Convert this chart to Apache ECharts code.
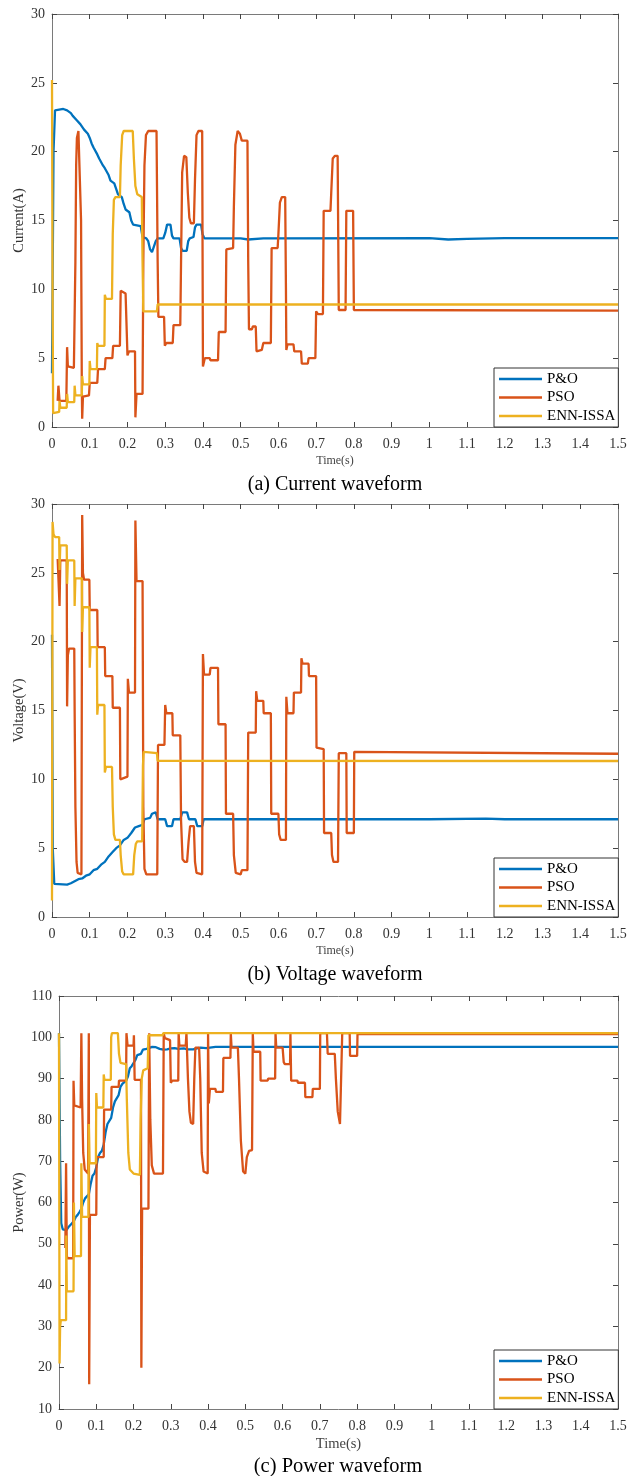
<!DOCTYPE html>
<html>
<head>
<meta charset="utf-8">
<script src="https://cdn.jsdelivr.net/npm/echarts@6/dist/echarts.min.js"></script>
<style>
html,body{margin:0;padding:0;background:#fff;}
#chart{width:627px;height:1476px;}
</style>
</head>
<body>
<div id="chart"></div>
<script>
// ---------- DATA ----------
const seriesNames = ['P&O', 'PSO', 'ENN-ISSA'];
const captions = ['(a) Current waveform', '(b) Voltage waveform', '(c) Power waveform'];
const yNames = ['Current(A)', 'Voltage(V)', 'Power(W)'];
const xName = 'Time(s)';

// (a) current, [time s, current A]
const currentPO = [[0,3.9],[0.004,20],[0.008,23.0],[0.012,23.1],[0.03,23.1],[0.04,23.0],[0.045,22.9],[0.05,22.8],[0.055,22.6],[0.06,22.5],[0.065,22.3],[0.07,22.2],[0.075,22.0],[0.08,21.8],[0.085,21.6],[0.09,21.5],[0.095,21.3],[0.1,21.0],[0.105,20.6],[0.11,20.3],[0.115,20.2],[0.12,19.8],[0.125,19.5],[0.13,19.4],[0.135,19.0],[0.14,18.8],[0.145,18.7],[0.15,18.3],[0.155,17.9],[0.16,17.8],[0.165,17.7],[0.17,17.3],[0.175,16.9],[0.18,16.8],[0.185,16.7],[0.19,16.2],[0.195,15.8],[0.2,15.7],[0.205,15.6],[0.21,15.0],[0.215,14.7],[0.22,14.7],[0.235,14.6],[0.24,13.8],[0.25,13.7],[0.255,13.5],[0.26,12.9],[0.265,12.7],[0.27,12.8],[0.275,13.5],[0.28,13.7],[0.295,13.7],[0.3,14.1],[0.305,14.7],[0.314,14.7],[0.318,13.9],[0.322,13.7],[0.338,13.7],[0.342,13.0],[0.346,12.8],[0.357,12.8],[0.361,13.5],[0.365,13.7],[0.375,13.8],[0.379,14.5],[0.383,14.7],[0.395,14.7],[0.399,14.0],[0.404,13.7],[0.5,13.7],[0.52,13.62],[0.56,13.7],[1.0,13.72],[1.005,13.6],[1.05,13.62],[1.1,13.66],[1.2,13.72],[1.5,13.72]];
const currentPSO = [[0.015,1.9],[0.017,3.0],[0.02,1.9],[0.038,1.9],[0.04,5.8],[0.042,4.4],[0.058,4.3],[0.06,4.3],[0.062,12],[0.064,19],[0.066,21.0],[0.07,21.5],[0.075,21.5],[0.077,15],[0.079,3],[0.08,0.6],[0.082,2.2],[0.098,2.3],[0.1,3.2],[0.12,3.2],[0.122,4.2],[0.14,4.2],[0.142,5.0],[0.16,5.0],[0.162,5.9],[0.18,5.9],[0.182,9.9],[0.195,9.7],[0.2,5.2],[0.204,5.5],[0.22,5.5],[0.221,0.7],[0.224,2.4],[0.24,2.4],[0.242,12],[0.245,19],[0.249,21.2],[0.255,21.5],[0.277,21.5],[0.28,12],[0.282,8.0],[0.297,8.0],[0.299,5.9],[0.303,6.1],[0.32,6.1],[0.322,7.4],[0.34,7.4],[0.342,12],[0.345,18.5],[0.35,19.7],[0.356,19.6],[0.36,17],[0.364,15.2],[0.368,14.8],[0.376,14.8],[0.379,18],[0.383,21.2],[0.388,21.5],[0.398,21.5],[0.4,4.4],[0.405,5.0],[0.418,5.0],[0.42,4.85],[0.44,4.85],[0.442,6.9],[0.46,6.9],[0.462,12.9],[0.48,13.0],[0.482,16],[0.486,20.5],[0.492,21.5],[0.498,21.3],[0.503,20.8],[0.518,20.8],[0.52,12],[0.522,7.1],[0.53,7.1],[0.532,7.3],[0.54,7.3],[0.542,5.5],[0.556,5.6],[0.56,6.1],[0.58,6.1],[0.582,13.0],[0.598,13.0],[0.6,14],[0.604,16.3],[0.609,16.7],[0.618,16.7],[0.62,10],[0.621,5.6],[0.624,6.0],[0.64,6.0],[0.642,5.5],[0.66,5.5],[0.662,4.6],[0.678,4.6],[0.68,5.0],[0.698,5.0],[0.7,8.4],[0.705,8.2],[0.718,8.2],[0.72,15.7],[0.738,15.7],[0.74,17],[0.744,19.5],[0.75,19.7],[0.757,19.7],[0.76,8.5],[0.778,8.5],[0.78,15.7],[0.798,15.7],[0.8,8.5],[1.5,8.45]];
const currentENN = [[0,25.2],[0.0015,10],[0.003,1.0],[0.005,1.1],[0.019,1.1],[0.02,1.9],[0.022,1.4],[0.039,1.4],[0.04,2.4],[0.042,1.8],[0.059,1.8],[0.06,3.0],[0.062,2.3],[0.079,2.3],[0.08,3.7],[0.082,3.1],[0.099,3.1],[0.1,4.8],[0.102,4.2],[0.119,4.2],[0.12,6.1],[0.122,5.9],[0.139,5.9],[0.14,9.6],[0.143,9.3],[0.159,9.3],[0.161,14],[0.164,16.5],[0.168,16.7],[0.18,16.7],[0.182,19],[0.186,21.2],[0.19,21.5],[0.214,21.5],[0.217,19.5],[0.221,17.5],[0.226,16.9],[0.238,16.7],[0.24,12],[0.242,8.4],[0.278,8.4],[0.28,8.9],[1.5,8.9]];

// (b) voltage, [time s, voltage V]
const voltagePO = [[0,20.5],[0.002,5],[0.006,2.4],[0.01,2.3],[0.04,2.35],[0.05,2.45],[0.06,2.6],[0.07,2.75],[0.08,2.8],[0.09,3.0],[0.1,3.1],[0.11,3.4],[0.12,3.5],[0.13,3.8],[0.14,4.0],[0.15,4.4],[0.16,4.7],[0.17,5.0],[0.18,5.2],[0.19,5.6],[0.2,5.75],[0.21,6.1],[0.22,6.5],[0.23,6.6],[0.24,6.7],[0.245,7.1],[0.26,7.2],[0.265,7.5],[0.275,7.6],[0.28,7.1],[0.3,7.1],[0.305,6.6],[0.318,6.6],[0.322,7.1],[0.34,7.1],[0.345,7.6],[0.358,7.6],[0.363,7.1],[0.38,7.1],[0.385,6.6],[0.398,6.6],[0.402,7.1],[1.0,7.1],[1.005,7.18],[1.15,7.15],[1.2,7.1],[1.5,7.1]];
const voltagePSO = [[0.015,26.0],[0.019,25.9],[0.02,22.6],[0.022,25.9],[0.039,25.9],[0.04,15.3],[0.042,19.0],[0.045,19.5],[0.059,19.5],[0.06,15],[0.062,8],[0.065,4],[0.068,3.2],[0.078,3.1],[0.08,29.2],[0.082,25],[0.085,24.5],[0.099,24.5],[0.1,22.3],[0.12,22.3],[0.121,19.6],[0.14,19.6],[0.141,17.5],[0.16,17.5],[0.161,15.2],[0.18,15.2],[0.181,10.0],[0.2,10.2],[0.201,17.3],[0.204,16.3],[0.22,16.3],[0.221,28.8],[0.224,24.4],[0.24,24.4],[0.242,8],[0.245,3.5],[0.25,3.1],[0.279,3.1],[0.281,12.5],[0.298,12.5],[0.3,15.4],[0.303,14.8],[0.319,14.8],[0.32,13.2],[0.34,13.2],[0.342,7],[0.346,4.2],[0.352,4.0],[0.358,4.0],[0.362,5.5],[0.366,6.6],[0.376,6.6],[0.379,4],[0.383,3.2],[0.398,3.1],[0.4,19.1],[0.403,17.6],[0.418,17.6],[0.42,18.1],[0.44,18.1],[0.441,14.0],[0.46,14.0],[0.461,7.5],[0.48,7.5],[0.482,4.5],[0.487,3.2],[0.5,3.1],[0.503,3.4],[0.518,3.4],[0.52,13.4],[0.54,13.4],[0.541,16.4],[0.544,15.7],[0.56,15.7],[0.561,14.8],[0.58,14.8],[0.581,7.5],[0.6,7.5],[0.602,6],[0.606,5.6],[0.62,5.6],[0.621,16.0],[0.624,14.8],[0.64,14.8],[0.641,16.3],[0.66,16.3],[0.661,18.8],[0.664,18.4],[0.68,18.4],[0.681,17.5],[0.7,17.5],[0.701,12.3],[0.704,12.2],[0.72,12.2],[0.721,6.1],[0.74,6.1],[0.742,4.5],[0.746,4.0],[0.758,4.0],[0.76,11.9],[0.78,11.9],[0.781,6.1],[0.8,6.1],[0.801,12.0],[0.805,11.86],[1.5,11.86]];
const voltageENN = [[0,1.2],[0.0015,28.7],[0.004,27.8],[0.008,27.6],[0.019,27.6],[0.02,25.2],[0.022,27.0],[0.039,27.0],[0.04,24.2],[0.042,25.9],[0.059,25.9],[0.06,22.6],[0.062,24.6],[0.079,24.6],[0.08,20.7],[0.082,22.5],[0.099,22.5],[0.1,18.1],[0.102,19.6],[0.119,19.6],[0.12,14.7],[0.122,15.4],[0.139,15.4],[0.14,10.5],[0.143,10.9],[0.159,10.9],[0.161,8],[0.164,6],[0.168,5.6],[0.18,5.6],[0.182,4.5],[0.186,3.3],[0.19,3.1],[0.215,3.1],[0.218,4.5],[0.222,5.3],[0.226,5.5],[0.239,5.5],[0.241,11],[0.243,12.0],[0.278,11.9],[0.28,11.35],[1.5,11.33]];

// (c) power, [time s, power W]
const powerPO = [[0,101],[0.003,70],[0.006,55],[0.01,53.5],[0.02,53.3],[0.025,54],[0.03,54.2],[0.035,55],[0.04,55.5],[0.045,56.5],[0.05,57],[0.055,57.7],[0.06,58.5],[0.065,60],[0.07,61],[0.075,61.2],[0.08,62],[0.085,64.5],[0.09,66.5],[0.095,67],[0.1,68.5],[0.105,71],[0.11,72],[0.115,72.5],[0.12,74],[0.125,77],[0.13,79],[0.135,79.3],[0.14,80.5],[0.145,83],[0.15,84.5],[0.155,84.8],[0.16,86],[0.165,88],[0.17,88.7],[0.175,89],[0.18,89.5],[0.185,90.5],[0.19,92.5],[0.195,93],[0.2,93.3],[0.205,94.5],[0.21,95.7],[0.22,96],[0.225,97],[0.235,97.2],[0.24,97.5],[0.25,97.7],[0.26,97.6],[0.27,97.2],[0.28,97],[0.29,97.1],[0.3,97.3],[0.31,97.4],[0.32,97.2],[0.335,97.3],[0.345,97.1],[0.36,97.1],[0.37,97.3],[0.38,97.5],[0.395,97.4],[0.4,97.6],[0.42,97.7],[1.5,97.7]];
const powerPSO = [[0.017,49],[0.019,69.5],[0.021,47],[0.023,46.5],[0.038,46.5],[0.039,89.5],[0.041,83.5],[0.058,83],[0.06,101],[0.062,85],[0.065,72],[0.069,68],[0.078,67],[0.08,101],[0.081,16],[0.083,57],[0.1,57],[0.101,71],[0.12,71],[0.121,82.5],[0.14,82.5],[0.141,88],[0.16,88],[0.161,89.5],[0.18,89.5],[0.181,101],[0.184,98],[0.2,98],[0.201,100.5],[0.203,89.7],[0.22,89.7],[0.221,20],[0.223,58.5],[0.24,58.5],[0.242,101],[0.245,80],[0.249,69],[0.255,67],[0.279,67],[0.281,101],[0.284,99.8],[0.298,99.3],[0.3,89],[0.304,89.5],[0.32,89.5],[0.321,101],[0.323,98],[0.34,98],[0.342,101],[0.346,90],[0.35,82],[0.354,79.3],[0.36,79],[0.363,90],[0.366,97.5],[0.376,97.5],[0.379,90],[0.383,72],[0.388,67.5],[0.399,67],[0.4,101],[0.402,84],[0.405,87.5],[0.42,87.5],[0.421,86.8],[0.44,86.8],[0.441,95],[0.46,95],[0.461,101],[0.463,97.5],[0.48,97.5],[0.483,90],[0.488,75],[0.494,67.5],[0.5,67],[0.504,71],[0.51,72.5],[0.518,72.7],[0.52,101],[0.522,96.5],[0.54,96.5],[0.541,89.5],[0.56,89.5],[0.561,90],[0.58,90],[0.581,101],[0.583,97.5],[0.6,97.5],[0.603,94],[0.606,93.5],[0.62,93.5],[0.621,101],[0.623,89.5],[0.64,89.5],[0.641,89],[0.66,89],[0.661,85.5],[0.68,85.5],[0.681,87.5],[0.7,87.5],[0.701,101],[0.719,101],[0.721,96],[0.74,96],[0.743,90],[0.748,82],[0.754,79],[0.758,79],[0.76,101],[0.78,101],[0.781,95.5],[0.8,95.5],[0.801,100.8],[1.5,100.8]];
const powerENN = [[0,101],[0.0015,21],[0.003,30],[0.005,31.5],[0.019,31.5],[0.0195,52],[0.021,38.5],[0.039,38.5],[0.04,60],[0.042,47],[0.059,47],[0.06,69.5],[0.062,56.5],[0.079,56.5],[0.08,79],[0.082,69.5],[0.099,69.5],[0.1,86.5],[0.102,83],[0.119,83],[0.12,91],[0.122,89.7],[0.139,89.7],[0.14,100],[0.142,101],[0.158,101],[0.161,96],[0.165,93.8],[0.18,93.5],[0.182,85],[0.186,72],[0.19,68],[0.2,67],[0.217,66.7],[0.219,80],[0.222,90],[0.226,92],[0.238,92.5],[0.24,100.5],[0.278,100.5],[0.28,101],[1.5,101]];

const panelData = [
  [currentPO, currentPSO, currentENN],
  [voltagePO, voltagePSO, voltageENN],
  [powerPO, powerPSO, powerENN]
];
const yRanges = [[0, 30, 5], [0, 30, 5], [10, 110, 10]];

// ---------- LAYOUT / STYLE ----------
const colors = ['#0072BD', '#D95319', '#EDB120'];
const FONT = '"Liberation Serif", "Times New Roman", serif';
const grids = [
  {left: 52, top: 14, width: 566, height: 413, outerBoundsMode: 'none', containLabel: false},
  {left: 52, top: 504, width: 566, height: 413, outerBoundsMode: 'none', containLabel: false},
  {left: 59, top: 996, width: 559, height: 413, outerBoundsMode: 'none', containLabel: false}
];
const xNameSize = [12, 12, 14.5];
const yNameGap = [25.5, 25.5, 32.5];
const captionPos = [[335, 485, 20], [335, 975, 20], [338, 1467, 20.5]];

const axisLineColor = '#7a7a7a';
const labelColor = '#333';

const xAxes = [], yAxes = [], series = [], legends = [], graphics = [];
grids.forEach((g, i) => {
  xAxes.push({
    type: 'value', gridIndex: i, min: 0, max: 1.5, interval: 0.1, position: 'bottom',
    name: xName, nameLocation: 'middle', nameGap: 28, nameMoveOverlap: false,
    nameTextStyle: {fontFamily: FONT, fontSize: xNameSize[i], color: '#444'},
    axisLine: {show: true, onZero: false, lineStyle: {color: axisLineColor, width: 1}},
    axisTick: {show: true, inside: true, length: 5, lineStyle: {color: '#444'}},
    axisLabel: {fontFamily: FONT, fontSize: 14, color: labelColor, margin: 10,
      formatter: v => String(Math.round(v * 10) / 10)},
    splitLine: {show: false}
  });
  xAxes.push({
    type: 'value', gridIndex: i, min: 0, max: 1.5, interval: 0.1, position: 'top',
    axisLine: {show: true, onZero: false, lineStyle: {color: axisLineColor, width: 1}},
    axisTick: {show: true, inside: true, length: 5, lineStyle: {color: '#444'}},
    axisLabel: {show: false}, splitLine: {show: false}
  });
  const [ymin, ymax, yint] = yRanges[i];
  yAxes.push({
    type: 'value', gridIndex: i, min: ymin, max: ymax, interval: yint, position: 'left',
    name: yNames[i], nameLocation: 'middle', nameGap: yNameGap[i], nameMoveOverlap: false,
    nameTextStyle: {fontFamily: FONT, fontSize: 14.5, color: '#333'},
    axisLine: {show: true, onZero: false, lineStyle: {color: axisLineColor, width: 1}},
    axisTick: {show: true, inside: true, length: 5, lineStyle: {color: '#444'}},
    axisLabel: {fontFamily: FONT, fontSize: 14, color: labelColor, margin: 7},
    splitLine: {show: false}
  });
  yAxes.push({
    type: 'value', gridIndex: i, min: ymin, max: ymax, interval: yint, position: 'right',
    axisLine: {show: true, onZero: false, lineStyle: {color: axisLineColor, width: 1}},
    axisTick: {show: true, inside: true, length: 5, lineStyle: {color: '#444'}},
    axisLabel: {show: false}, splitLine: {show: false}
  });
  panelData[i].forEach((d, k) => {
    series.push({
      name: seriesNames[k], type: 'line', xAxisIndex: i * 2, yAxisIndex: i * 2,
      data: d, showSymbol: false, symbol: 'none', smooth: false,
      lineStyle: {color: colors[k], width: 2.3}, itemStyle: {color: colors[k]},
      emphasis: {disabled: true}, z: 2 + k
    });
  });
  legends.push({
    data: seriesNames, orient: 'vertical', left: 494, top: g.top + g.height - 59,
    icon: 'rect', itemWidth: 43, itemHeight: 2.5, itemGap: 2.5,
    padding: [3, 3, 3, 5], borderColor: '#333', borderWidth: 1, backgroundColor: '#fff',
    textStyle: {fontFamily: FONT, fontSize: 15, color: '#000', lineHeight: 16},
    selectedMode: false
  });
  const [cx, cy, cs] = captionPos[i];
  graphics.push({
    type: 'text', x: cx, y: cy,
    style: {text: captions[i], fontFamily: FONT, fontSize: cs, fill: '#000',
      align: 'center', verticalAlign: 'middle', textAlign: 'center', textVerticalAlign: 'middle'}
  });
});

const chart = echarts.init(document.getElementById('chart'), null, {renderer: 'canvas'});
chart.setOption({
  animation: false,
  backgroundColor: '#fff',
  color: colors,
  grid: grids,
  xAxis: xAxes,
  yAxis: yAxes,
  legend: legends,
  series: series,
  graphic: graphics
});
</script>
</body>
</html>
